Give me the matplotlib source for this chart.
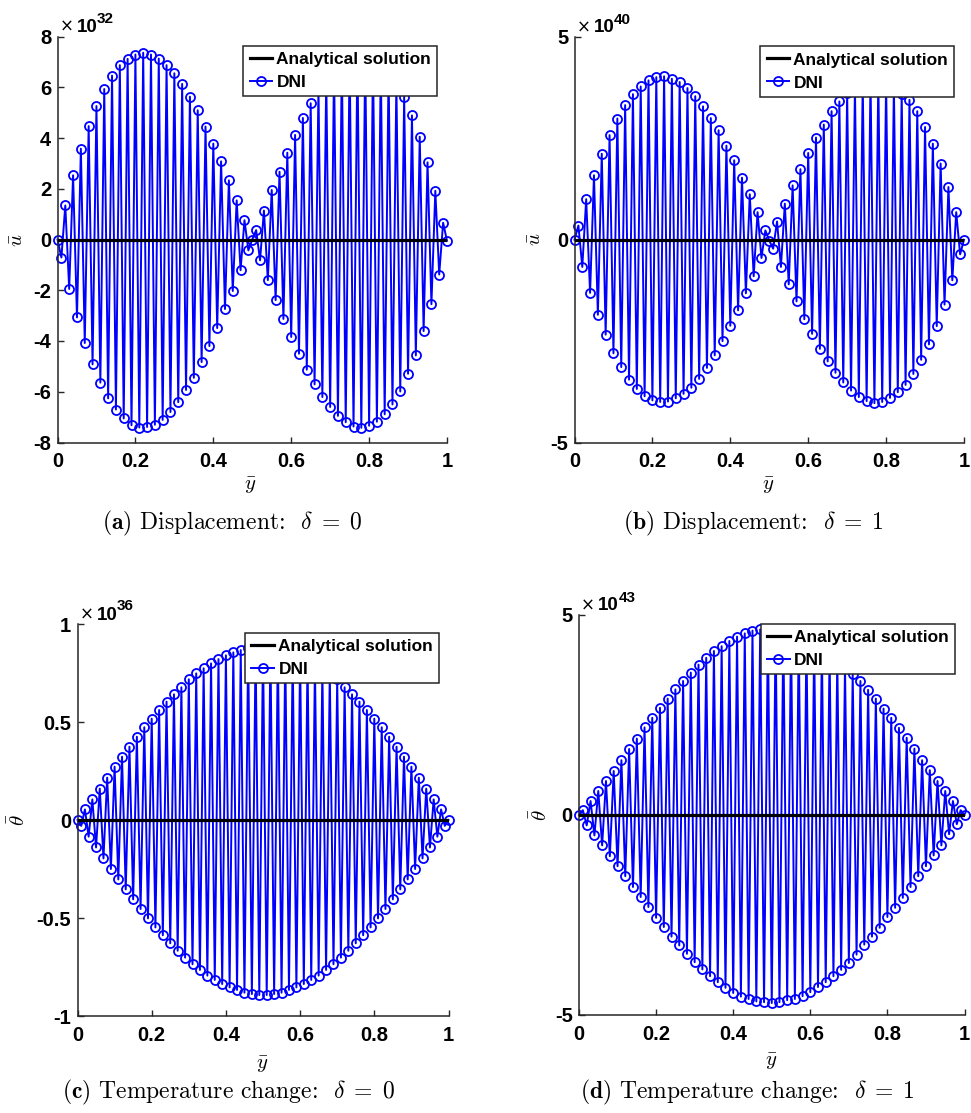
import matplotlib
matplotlib.use("Agg")
import matplotlib.pyplot as plt
import numpy as np

plt.rcParams['mathtext.fontset'] = 'cm'
plt.rcParams['axes.unicode_minus'] = False
plt.rcParams['font.family'] = ['Liberation Sans', 'DejaVu Sans']

# -----------------------------
# Data: DNI solution on 101 nodes of y in [0, 1]
# (mantissas; the exponent of each panel is kept separately)
# -----------------------------
y_nodes = np.linspace(0.0, 1.0, 101)

u_delta0 = [
    0.00, -0.71, 1.34, -1.95, 2.53, -3.07, 3.58, -4.08, 4.47, -4.92,
    5.26, -5.64, 5.93, -6.26, 6.46, -6.70, 6.87, -7.05, 7.12, -7.32,
    7.29, -7.41, 7.36, -7.39, 7.29, -7.30, 7.13, -7.11, 6.87, -6.80,
    6.55, -6.41, 6.13, -5.93, 5.63, -5.45, 5.09, -4.83, 4.45, -4.20,
    3.78, -3.49, 3.08, -2.74, 2.33, -2.03, 1.54, -1.21, 0.76, -0.43,
    0.00, 0.37, -0.82, 1.14, -1.60, 1.95, -2.39, 2.67, -3.13, 3.42,
    -3.84, 4.12, -4.50, 4.79, -5.13, 5.37, -5.71, 5.95, -6.21, 6.45,
    -6.60, 6.85, -6.95, 7.10, -7.20, 7.30, -7.37, 7.40, -7.42, 7.38,
    -7.34, 7.22, -7.18, 7.00, -6.89, 6.70, -6.50, 6.20, -5.99, 5.63,
    -5.29, 4.89, -4.57, 4.05, -3.61, 3.04, -2.55, 1.92, -1.38, 0.66,
    -0.05,
]
u_delta1 = [
    0.00, 0.35, -0.67, 1.00, -1.31, 1.59, -1.85, 2.12, -2.34, 2.58,
    -2.80, 2.99, -3.14, 3.32, -3.45, 3.59, -3.68, 3.78, -3.86, 3.93,
    -3.96, 4.01, -4.00, 4.03, -3.99, 3.97, -3.91, 3.89, -3.80, 3.74,
    -3.65, 3.54, -3.43, 3.29, -3.16, 3.00, -2.85, 2.70, -2.50, 2.32,
    -2.12, 1.96, -1.74, 1.53, -1.32, 1.12, -0.90, 0.68, -0.45, 0.23,
    -0.02, -0.22, 0.45, -0.67, 0.89, -1.10, 1.34, -1.52, 1.74, -1.96,
    2.14, -2.32, 2.52, -2.69, 2.84, -3.00, 3.17, -3.28, 3.41, -3.52,
    3.62, -3.72, 3.78, -3.88, 3.90, -3.98, 3.98, -4.03, 3.98, -4.00,
    3.92, -3.90, 3.80, -3.76, 3.60, -3.58, 3.45, -3.31, 3.17, -2.96,
    2.78, -2.58, 2.37, -2.13, 1.88, -1.60, 1.30, -1.00, 0.68, -0.36,
    0.00,
]
theta_delta0 = [
    0.000, -0.030, 0.054, -0.085, 0.105, -0.140, 0.160, -0.196, 0.216, -0.250,
    0.272, -0.303, 0.323, -0.354, 0.374, -0.405, 0.425, -0.454, 0.473, -0.502,
    0.517, -0.548, 0.561, -0.588, 0.604, -0.629, 0.641, -0.667, 0.677, -0.702,
    0.718, -0.736, 0.748, -0.765, 0.774, -0.794, 0.799, -0.816, 0.821, -0.837,
    0.840, -0.854, 0.855, -0.867, 0.867, -0.881, 0.879, -0.888, 0.886, -0.893,
    0.890, -0.893, 0.886, -0.888, 0.879, -0.881, 0.867, -0.867, 0.855, -0.854,
    0.840, -0.837, 0.821, -0.816, 0.799, -0.794, 0.774, -0.765, 0.748, -0.736,
    0.718, -0.702, 0.677, -0.667, 0.641, -0.629, 0.604, -0.588, 0.561, -0.548,
    0.517, -0.502, 0.473, -0.454, 0.425, -0.405, 0.374, -0.354, 0.323, -0.303,
    0.272, -0.250, 0.216, -0.196, 0.160, -0.140, 0.105, -0.085, 0.054, -0.030,
    0.000,
]
theta_delta1 = [
    0.00, 0.12, -0.26, 0.35, -0.51, 0.60, -0.76, 0.85, -1.03, 1.10,
    -1.28, 1.37, -1.53, 1.65, -1.80, 1.91, -2.05, 2.19, -2.30, 2.43,
    -2.57, 2.68, -2.80, 2.91, -3.04, 3.14, -3.26, 3.35, -3.47, 3.56,
    -3.68, 3.76, -3.86, 3.93, -4.03, 4.10, -4.18, 4.22, -4.32, 4.35,
    -4.45, 4.46, -4.54, 4.54, -4.60, 4.61, -4.66, 4.64, -4.68, 4.66,
    -4.70, 4.66, -4.68, 4.63, -4.63, 4.58, -4.60, 4.51, -4.53, 4.42,
    -4.43, 4.32, -4.30, 4.20, -4.18, 4.06, -4.03, 3.90, -3.87, 3.72,
    -3.70, 3.53, -3.49, 3.35, -3.24, 3.13, -3.04, 2.91, -2.82, 2.66,
    -2.55, 2.43, -2.32, 2.18, -2.07, 1.93, -1.80, 1.66, -1.53, 1.37,
    -1.28, 1.12, -1.01, 0.85, -0.76, 0.60, -0.48, 0.35, -0.23, 0.12,
    0.00,
]
# analytical solution is identically zero on the grid
analytical = [0.0, 0.0]
analytical_y = [0.0, 1.0]

exponents = [32, 40, 36, 43]
ylims = [8, 5, 1, 5]
yticks = [[-8, -6, -4, -2, 0, 2, 4, 6, 8],
          [-5, 0, 5],
          [-1, -0.5, 0, 0.5, 1],
          [-5, 0, 5]]
ytick_labels = [['-8', '-6', '-4', '-2', '0', '2', '4', '6', '8'],
                ['-5', '0', '5'],
                ['-1', '-0.5', '0', '0.5', '1'],
                ['-5', '0', '5']]
xticks = [0, 0.2, 0.4, 0.6, 0.8, 1.0]
xtick_labels = ['0', '0.2', '0.4', '0.6', '0.8', '1']
ylabels = [r'$\bar{u}$', r'$\bar{u}$', r'$\bar{\theta}$', r'$\bar{\theta}$']
captions = [r'$\mathbf{(a)}$ Displacement:  $\delta\;=\;0$',
            r'$\mathbf{(b)}$ Displacement:  $\delta\;=\;1$',
            r'$\mathbf{(c)}$ Temperature change:  $\delta\;=\;0$',
            r'$\mathbf{(d)}$ Temperature change:  $\delta\;=\;1$']
series = [u_delta0, u_delta1, theta_delta0, theta_delta1]

# -----------------------------
# Layout (pixel boxes: left, top, right, bottom)
# -----------------------------
W, H = 971, 1113
boxes = [(57.5, 36.5, 447, 442.5), (574.5, 37, 964, 442.5),
         (77.5, 624, 448.5, 1016), (579, 615, 964.5, 1015)]
ylabel_pos = [(17, 240), (535, 239), (18, 820), (540, 815)]
xlabel_pos = [(250, 486), (768, 486), (262, 1065), (771, 1062)]
caption_pos = [(232, 523), (753, 523), (228, 1092), (747, 1092)]


def fx(x):
    return x / W


def fy(y):
    return 1 - y / H


fig = plt.figure(figsize=(W / 100, H / 100), dpi=100)
spine_col = '#262626'

for i in range(4):
    l, t, r, b = boxes[i]
    ax = fig.add_axes([fx(l), fy(b), (r - l) / W, (b - t) / H])

    dni, = ax.plot(y_nodes, series[i], color='#0000ff', lw=1.4, marker='o',
                   ms=6.5, mfc='none', mew=1.3, clip_on=False, zorder=2,
                   label='DNI')
    ana, = ax.plot(analytical_y, analytical, color='k', lw=2.3, zorder=3,
                   label='Analytical solution')

    ax.set_xlim(0, 1)
    ax.set_ylim(-ylims[i], ylims[i])
    ax.set_xticks(xticks)
    ax.set_xticklabels(xtick_labels)
    ax.set_yticks(yticks[i])
    ax.set_yticklabels(ytick_labels[i])

    for side in ['top', 'right']:
        ax.spines[side].set_visible(False)
    for side in ['left', 'bottom']:
        ax.spines[side].set_color(spine_col)
        ax.spines[side].set_linewidth(1.1)
    ax.tick_params(direction='in', length=4, width=1.0, color=spine_col,
                   labelsize=14.5)
    ax.tick_params(axis='x', pad=7)
    ax.tick_params(axis='y', pad=4.5)
    for lab in ax.get_xticklabels() + ax.get_yticklabels():
        lab.set_fontweight('bold')

    leg = ax.legend(handles=[ana, dni], loc='upper right',
                    bbox_to_anchor=(0.975, 0.977), borderaxespad=0,
                    prop={'weight': 'bold', 'size': 12.5}, numpoints=1,
                    handlelength=1.3, handletextpad=0.25, borderpad=0.35,
                    labelspacing=0.45, fancybox=False, framealpha=1,
                    edgecolor=spine_col)
    leg.get_frame().set_linewidth(1.1)
    leg.set_zorder(5)

    # exponent label above the y axis
    fig.text(fx(l + 2), fy(t - 4.5), '\u00d7', fontsize=12,
             family='DejaVu Sans', ha='left', va='baseline')
    fig.text(fx(l + 19), fy(t - 4.5), '10', fontsize=13.5,
             fontweight='bold', ha='left', va='baseline')
    fig.text(fx(l + 39.5), fy(t - 13.5), str(exponents[i]), fontsize=11,
             fontweight='bold', ha='left', va='baseline')

    fig.text(fx(ylabel_pos[i][0]), fy(ylabel_pos[i][1]), ylabels[i],
             fontsize=15, rotation=90, ha='center', va='center')
    fig.text(fx(xlabel_pos[i][0]), fy(xlabel_pos[i][1]), r'$\bar{y}$',
             fontsize=15, ha='center', va='center')
    fig.text(fx(caption_pos[i][0]), fy(caption_pos[i][1]), captions[i],
             fontsize=17, family='cmr10', ha='center', va='center')

fig.savefig('out.png', dpi=100)
